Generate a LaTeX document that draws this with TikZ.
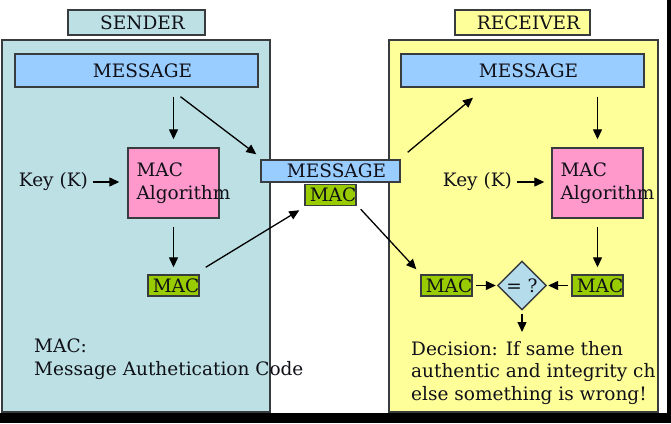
\documentclass[tikz,border=0pt]{standalone}
\usepackage{fontspec}
\setmainfont{DejaVu Serif}
\usepackage{xcolor}
\usetikzlibrary{arrows.meta,positioning,shapes.geometric}
\definecolor{senderTeal}{HTML}{BCE0E3}
\definecolor{receiverYellow}{HTML}{FFFF99}
\definecolor{msgBlue}{HTML}{99CCFF}
\definecolor{algPink}{HTML}{FF99CC}
\definecolor{macGreen}{HTML}{99CC00}
\definecolor{cmpBlue}{HTML}{B4DCEA}
\definecolor{edgeGray}{HTML}{383C3E}
\definecolor{inkDark}{HTML}{101018}

\tikzset{
    box/.style={draw=edgeGray, line width=1.4pt, inner sep=0pt, text=inkDark,
        font=\fontsize{18.5}{22}\selectfont, execute at begin node={\hspace*{12pt}}},
    titlebox/.style={box, minimum width=137pt, minimum height=25pt},
    msgbox/.style={box, fill=msgBlue},
    algbox/.style={draw=edgeGray, line width=1.4pt, fill=algPink, minimum width=91pt, minimum height=70pt},
    macbox/.style={draw=edgeGray, line width=1.4pt, fill=macGreen, inner sep=0pt,
        minimum width=51pt, minimum height=21pt},
    plain/.style={inner sep=0pt, text=inkDark, font=\fontsize{18.5}{22.5}\selectfont},
    conn/.style={-{Triangle[length=10pt,width=9pt]}, line width=1.3pt, draw=black}
}

\begin{document}
\begin{tikzpicture}[x=1pt, y=-1pt]
    \useasboundingbox (0,0) rectangle (671,423);

    % sender / receiver panels
    \draw[edgeGray, line width=1.4pt, fill=senderTeal] (2,40) rectangle (270,412);
    \draw[edgeGray, line width=1.4pt, fill=receiverYellow] (389,40) rectangle (658,412);
    \node[titlebox, fill=senderTeal] (sendtitle) at (136.5,22.5) {SENDER};
    \node[titlebox, fill=receiverYellow, minimum width=135pt] (recvtitle) at (522.5,22.5) {RECEIVER};

    % sender side
    \node[msgbox, minimum width=243pt, minimum height=33pt] (smsg) at (136.5,70.5) {MESSAGE};
    \node[algbox] (salg) at (173.5,183) {};
    \node[plain, anchor=west, align=left] (salgtxt) at ([xshift=9pt]salg.west) {MAC\\Algorithm};
    \node[plain, anchor=east] (skey) at (88,182) {Key (K)};
    \node[macbox] (smac) at (173.5,285.5) {};
    \node[plain] (smactxt) at (176,285.5) {MAC};
    \node[plain, anchor=north west, align=left] (sdef) at (34,339) {MAC:\\Message Authetication Code};

    % sent over the wire
    \node[msgbox, minimum width=139pt, minimum height=22pt] (mmsg) at (330.5,171) {MESSAGE};
    \node[macbox] (mmac) at (330.5,195) {};
    \node[plain] (mmactxt) at (333,195) {MAC};

    % receiver side
    \node[msgbox, minimum width=243pt, minimum height=33pt] (rmsg) at (522.5,70.5) {MESSAGE};
    \node[algbox] (ralg) at (597.5,183) {};
    \node[plain, anchor=west, align=left] (ralgtxt) at ([xshift=9pt]ralg.west) {MAC\\Algorithm};
    \node[plain, anchor=east] (rkey) at (512,182) {Key (K)};
    \node[macbox] (rmacin) at (446.5,285.5) {};
    \node[plain] (rmacintxt) at (449,285.5) {MAC};
    \node[macbox] (rmacout) at (597.5,285.5) {};
    \node[plain] (rmacouttxt) at (600,285.5) {MAC};
    \node[draw=edgeGray, line width=1.4pt, fill=cmpBlue, diamond, inner sep=0pt,
        minimum width=49pt, minimum height=49pt, text=inkDark,
        font=\fontsize{18.5}{22}\selectfont] (cmp) at (522,285.5) {= ?};
    \coordinate (decide) at (522,332);
    \node[plain, anchor=north west, align=left] (rdec) at (411,341)
        {Decision: If same then\\authentic and integrity ch\\else something is wrong!};

    % sender arrows
    \draw[conn, shorten <=9pt, shorten >=8pt] (salg.north |- smsg.south) -- (salg.north);
    \draw[conn] ([xshift=44pt,yshift=-9pt]smsg.south) -- ([xshift=-4pt,yshift=5pt]mmsg.north west);
    \draw[conn, shorten <=5pt, shorten >=8pt] (skey.east) -- (salg.west |- skey.east);
    \draw[conn, shorten <=8pt, shorten >=7pt] (salg.south) -- (smac.north);
    \draw[conn] ([xshift=6pt,yshift=7pt]smac.north east) -- ([xshift=-5pt,yshift=-4pt]mmac.south west);

    % receiver arrows
    \draw[conn] ([xshift=7pt,yshift=7pt]mmsg.north east) -- ([xshift=-49.5pt,yshift=-10pt]rmsg.south);
    \draw[conn] ([xshift=4pt,yshift=-3pt]mmac.south east) -- ([xshift=-4pt,yshift=5pt]rmacin.north west);
    \draw[conn, shorten <=9pt, shorten >=8pt] (ralg.north |- rmsg.south) -- (ralg.north);
    \draw[conn, shorten <=5pt, shorten >=7pt] (rkey.east) -- (ralg.west |- rkey.east);
    \draw[conn, shorten <=8pt, shorten >=7pt] (ralg.south) -- (rmacout.north);
    \draw[conn, shorten <=3pt, shorten >=1pt] (rmacin.east) -- (cmp.west);
    \draw[conn, shorten <=3pt, shorten >=1pt] (rmacout.west) -- (cmp.east);
    \draw[conn, shorten <=3pt] (cmp.south) -- (decide);

    % dark frame edges
    \fill[black] (0,413) rectangle (671,423);
    \fill[black] (667,0) rectangle (671,423);
\end{tikzpicture}
\end{document}
